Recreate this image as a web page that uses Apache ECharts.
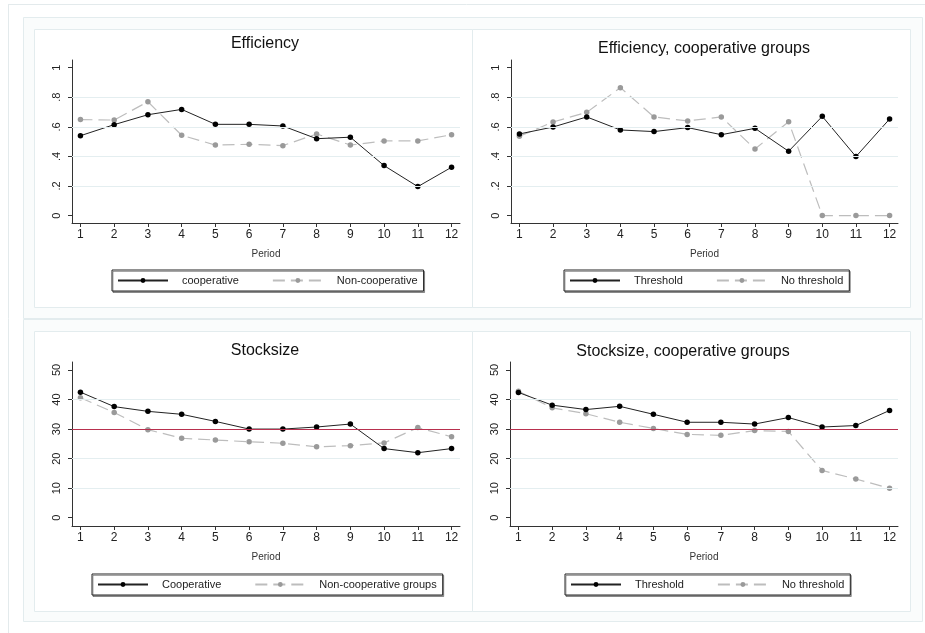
<!DOCTYPE html>
<html>
<head>
<meta charset="utf-8">
<title>Efficiency and stock size by period</title>
<script src="https://cdn.jsdelivr.net/npm/echarts@6/dist/echarts.min.js"></script>
<style>
  html, body { margin: 0; padding: 0; background: #fff; }
  #chart { width: 925px; height: 633px; }
</style>
</head>
<body>
<div id="chart"></div>
<script>
// Periods on the horizontal axis
const periods = [1, 2, 3, 4, 5, 6, 7, 8, 9, 10, 11, 12];

// Efficiency: all groups
const effCoop     = [0.54, 0.615, 0.682, 0.718, 0.617, 0.617, 0.606, 0.52, 0.53, 0.338, 0.196, 0.327];
const effNonCoop  = [0.649, 0.646, 0.77, 0.543, 0.477, 0.482, 0.473, 0.552, 0.477, 0.505, 0.505, 0.547];

// Efficiency: cooperative groups only
const effThreshold   = [0.552, 0.599, 0.667, 0.579, 0.568, 0.595, 0.547, 0.59, 0.435, 0.671, 0.399, 0.653];
const effNoThreshold = [0.536, 0.633, 0.698, 0.865, 0.667, 0.64, 0.667, 0.45, 0.635, 0, 0, 0];

// Stock size: all groups
const stockCoop    = [42.5, 37.6, 36.0, 35.0, 32.6, 30.0, 30.0, 30.7, 31.7, 23.4, 22.0, 23.4];
const stockNonCoop = [40.6, 35.6, 29.8, 26.9, 26.3, 25.7, 25.2, 24.0, 24.4, 25.3, 30.5, 27.4];

// Stock size: cooperative groups only
const stockThreshold   = [42.4, 38.1, 36.6, 37.7, 35.0, 32.3, 32.3, 31.7, 33.9, 30.7, 31.2, 36.3];
const stockNoThreshold = [42.8, 37.2, 35.2, 32.3, 30.2, 28.2, 27.9, 29.5, 29.2, 16.0, 13.1, 10.0];

// Axis ticks, gridlines and the stock threshold
const effTicks   = [0, 0.2, 0.4, 0.6, 0.8, 1];
const effGrid    = [0.2, 0.4, 0.6, 0.8];
const stockTicks = [0, 10, 20, 30, 40, 50];
const stockGrid  = [10, 20, 40];
const stockThresholdLevel = 30;

const FONT = '"Liberation Sans", Arial, Helvetica, sans-serif';
const AXIS_COLOR = '#333';
const GRID_COLOR = '#e4eef0';

const pairs = arr => periods.map((p, i) => [p, arr[i]]);

const effLabel = v => (v === 0 ? '0' : v === 1 ? '1' : String(v).replace(/^0/, ''));

// One entry for each panel
const panels = [
  { title: 'Efficiency', titleX: 265, titleY: 44,
    grid: { left: 72, top: 60, width: 388, height: 163 },
    y: [-0.05, 1.052], ticks: effTicks, gridVals: effGrid, fmt: effLabel, ref: null,
    s: [['cooperative', effCoop], ['Non-cooperative', effNonCoop]],
    legend: { left: 112, top: 270 } },
  { title: 'Efficiency, cooperative groups', titleX: 704, titleY: 49,
    grid: { left: 511, top: 60, width: 387, height: 163 },
    y: [-0.05, 1.052], ticks: effTicks, gridVals: effGrid, fmt: effLabel, ref: null,
    s: [['Threshold', effThreshold], ['No threshold', effNoThreshold]],
    legend: { left: 564, top: 270 } },
  { title: 'Stocksize', titleX: 265, titleY: 351,
    grid: { left: 72, top: 362, width: 388, height: 164 },
    y: [-2.8, 52.7], ticks: stockTicks, gridVals: stockGrid, fmt: v => String(v), ref: stockThresholdLevel,
    s: [['Cooperative', stockCoop], ['Non-cooperative groups', stockNonCoop]],
    legend: { left: 92, top: 574 } },
  { title: 'Stocksize, cooperative groups', titleX: 683, titleY: 352,
    grid: { left: 510, top: 362, width: 388, height: 164 },
    y: [-2.8, 52.7], ticks: stockTicks, gridVals: stockGrid, fmt: v => String(v), ref: stockThresholdLevel,
    s: [['Threshold', stockThreshold], ['No threshold', stockNoThreshold]],
    legend: { left: 565, top: 574 } }
];

const grids = [], xAxes = [], yAxes = [], series = [], legends = [], graphics = [];

// Frame lines and panel boxes
graphics.push(
  { type: 'line', shape: { x1: 8, y1: 4.5, x2: 925, y2: 4.5 }, style: { stroke: '#e3eaec', lineWidth: 1 }, silent: true },
  { type: 'line', shape: { x1: 8.5, y1: 4, x2: 8.5, y2: 633 }, style: { stroke: '#e3eaec', lineWidth: 1 }, silent: true },
  { type: 'rect', shape: { x: 23.5, y: 17.5, width: 899, height: 301 }, style: { fill: '#fafcfc', stroke: '#e3ecee', lineWidth: 1 }, silent: true, z: -10 },
  { type: 'rect', shape: { x: 23.5, y: 319.5, width: 899, height: 302 }, style: { fill: '#fafcfc', stroke: '#e3ecee', lineWidth: 1 }, silent: true, z: -10 },
  { type: 'rect', shape: { x: 34.5, y: 29.5, width: 438, height: 278 }, style: { fill: '#fff', stroke: '#e3ecee', lineWidth: 1 }, silent: true, z: -9 },
  { type: 'rect', shape: { x: 472.5, y: 29.5, width: 438, height: 278 }, style: { fill: '#fff', stroke: '#e3ecee', lineWidth: 1 }, silent: true, z: -9 },
  { type: 'rect', shape: { x: 34.5, y: 331.5, width: 438, height: 280 }, style: { fill: '#fff', stroke: '#e3ecee', lineWidth: 1 }, silent: true, z: -9 },
  { type: 'rect', shape: { x: 472.5, y: 331.5, width: 438, height: 280 }, style: { fill: '#fff', stroke: '#e3ecee', lineWidth: 1 }, silent: true, z: -9 }
);

panels.forEach((p, i) => {
  grids.push(Object.assign({ containLabel: false }, p.grid));

  xAxes.push({
    gridIndex: i, type: 'value', min: 0.75, max: 12.25,
    name: 'Period', nameLocation: 'middle', nameGap: 26,
    nameTextStyle: { fontFamily: FONT, fontSize: 10, color: '#333' },
    axisLine: { show: true, onZero: false, lineStyle: { color: AXIS_COLOR, width: 1 } },
    axisTick: { show: true, length: 4, customValues: periods, lineStyle: { color: AXIS_COLOR } },
    axisLabel: { customValues: periods, margin: 6, fontFamily: FONT, fontSize: 12, color: '#222' },
    splitLine: { show: false }
  });

  yAxes.push({
    gridIndex: i, type: 'value', min: p.y[0], max: p.y[1],
    axisLine: { show: true, onZero: false, lineStyle: { color: AXIS_COLOR, width: 1 } },
    axisTick: { show: true, length: 4, customValues: p.ticks, lineStyle: { color: AXIS_COLOR } },
    axisLabel: { customValues: p.ticks, rotate: 90, margin: 10, formatter: p.fmt,
                 fontFamily: FONT, fontSize: 11, color: '#222' },
    splitLine: { show: false }
  });

  // Light horizontal gridlines (and the threshold line on stock panels)
  const markData = p.gridVals.map(v => ({ yAxis: v, lineStyle: { color: GRID_COLOR, width: 1, type: 'solid' } }));
  if (p.ref !== null) {
    markData.push({ yAxis: p.ref, lineStyle: { color: '#b8304e', width: 1, type: 'solid' } });
  }

  const [solidName, solidData] = p.s[0];
  const [dashName, dashData] = p.s[1];

  series.push({
    name: dashName, type: 'line', xAxisIndex: i, yAxisIndex: i, data: pairs(dashData),
    symbol: 'circle', symbolSize: 5.5, z: 2,
    itemStyle: { color: '#9a9a9a' },
    lineStyle: { color: '#bdbdbd', width: 1.2, type: [12, 6] },
    markLine: { silent: true, symbol: 'none', label: { show: false }, animation: false, data: markData },
    animation: false
  });
  series.push({
    name: solidName, type: 'line', xAxisIndex: i, yAxisIndex: i, data: pairs(solidData),
    symbol: 'circle', symbolSize: 5.5, z: 3,
    itemStyle: { color: '#000' },
    lineStyle: { color: '#222', width: 1 },
    animation: false
  });

  legends.push({
    data: [solidName, dashName],
    left: p.legend.left, top: p.legend.top, orient: 'horizontal',
    itemWidth: 50, itemHeight: 6, itemGap: 33,
    padding: [5, 6, 5, 5],
    backgroundColor: '#fff', borderColor: '#222', borderWidth: 1,
    shadowColor: 'rgba(0,0,0,0.35)', shadowOffsetX: 1, shadowOffsetY: 1.5, shadowBlur: 0,
    selectedMode: false,
    textStyle: { fontFamily: FONT, fontSize: 11, color: '#222', padding: [0, 0, 0, 9] }
  });

  graphics.push({
    type: 'text', silent: true,
    style: { text: p.title, x: p.titleX, y: p.titleY, align: 'center', verticalAlign: 'middle',
             font: '16px ' + FONT, fill: '#111' }
  });
});

const chart = echarts.init(document.getElementById('chart'), null, { renderer: 'canvas' });
chart.setOption({
  animation: false,
  backgroundColor: '#fff',
  grid: grids,
  xAxis: xAxes,
  yAxis: yAxes,
  legend: legends,
  series: series,
  graphic: graphics
});
</script>
</body>
</html>
